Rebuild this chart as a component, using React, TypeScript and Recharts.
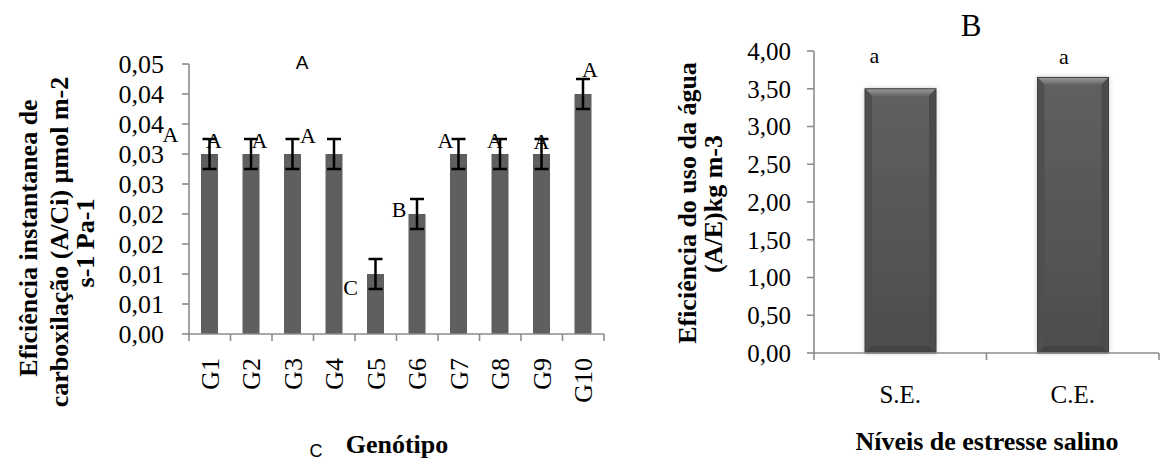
import { BarChart, Bar, XAxis, YAxis, ErrorBar, LabelList } from "recharts";

// Eficiência instantânea de carboxilação por genótipo
const genotypes = ["G1", "G2", "G3", "G4", "G5", "G6", "G7", "G8", "G9", "G10"];
const carboxEfficiency = [0.03, 0.03, 0.03, 0.03, 0.01, 0.02, 0.03, 0.03, 0.03, 0.04];
const carboxError = [0.0025, 0.0025, 0.0025, 0.0025, 0.0025, 0.0025, 0.0025, 0.0025, 0.0025, 0.0025];
const carboxLetters = ["A", "A", "A", "A", "C", "B", "A", "A", "A", "A"];
const carboxTicks = [0, 0.005, 0.01, 0.015, 0.02, 0.025, 0.03, 0.035, 0.04, 0.045];
const carboxTickLabels = ["0,00", "0,01", "0,01", "0,02", "0,02", "0,03", "0,03", "0,04", "0,04", "0,05"];

// Eficiência do uso da água por nível de estresse salino
const salinityLevels = ["S.E.", "C.E."];
const waterUseEfficiency = [3.5, 3.65];
const waterUseLetters = ["a", "a"];
const waterUseTicks = [0, 0.5, 1, 1.5, 2, 2.5, 3, 3.5, 4];
const waterUseTickLabels = ["0,00", "0,50", "1,00", "1,50", "2,00", "2,50", "3,00", "3,50", "4,00"];

const carboxData = genotypes.map((name, i) => ({
  name,
  value: carboxEfficiency[i],
  err: carboxError[i],
  letter: carboxLetters[i],
}));

const waterData = salinityLevels.map((name, i) => ({
  name,
  value: waterUseEfficiency[i],
  letter: waterUseLetters[i],
}));

const SERIF = '"Liberation Serif", "Times New Roman", serif';
const SANS = '"Liberation Sans", Arial, sans-serif';
const AXIS = "#8c8c8c";
const AXIS_W = 1.6;

// layout of the two panels
const A_W = 620;
const A_MARGIN = { top: 64, right: 16, bottom: 47, left: 0 };
const A_YAXIS_W = 189;
const A_BAND = (A_W - A_MARGIN.right - A_YAXIS_W) / genotypes.length;

const B_LEFT = 620;
const B_W = 540;
const B_MARGIN = { top: 51, right: 1, bottom: 49, left: 0 };
const B_YAXIS_W = 194;
const B_BAND = (B_W - B_MARGIN.right - B_YAXIS_W) / salinityLevels.length;

// hand-placed letter offsets (dx, dy) from the bar top centre
const A_LETTER_NUDGE = [
  [-39, -12], [-37, -6], [-33, -6], [-26, -11], [-25, 21],
  [-18, 3], [-13, -6], [-5, -6], [0, -5], [7, -17],
];
const B_LETTER_NUDGE = [
  [-26, -26], [-9, -13],
];

const GenotypeTick = (props: any) => {
  const { x, y, payload, index } = props;
  const half = A_BAND / 2;
  const last = index === genotypes.length - 1;
  return (
    <g>
      <line x1={x - half} y1={y} x2={x - half} y2={y + 7} stroke={AXIS} strokeWidth={AXIS_W} />
      {last && <line x1={x + half} y1={y} x2={x + half} y2={y + 7} stroke={AXIS} strokeWidth={AXIS_W} />}
      <text
        transform={`translate(${x + 9},${y + 24}) rotate(-90)`}
        textAnchor="end"
        fontFamily={SERIF}
        fontSize={26}
        fill="#000"
      >
        {payload.value}
      </text>
    </g>
  );
};

const SalinityTick = (props: any) => {
  const { x, y, payload, index } = props;
  const half = B_BAND / 2;
  const last = index === salinityLevels.length - 1;
  return (
    <g>
      <line x1={x - half} y1={y} x2={x - half} y2={y + 7} stroke={AXIS} strokeWidth={AXIS_W} />
      {last && <line x1={x + half} y1={y} x2={x + half} y2={y + 7} stroke={AXIS} strokeWidth={AXIS_W} />}
      <text x={x} y={y + 50} textAnchor="middle" fontFamily={SERIF} fontSize={25} fill="#000">
        {payload.value}
      </text>
    </g>
  );
};

const letterRenderer = (nudges: number[][]) => (props: any) => {
  const { x, y, width, value, index } = props;
  const [dx, dy] = nudges[index] || [0, -8];
  return (
    <text
      x={Number(x) + Number(width) / 2 + dx}
      y={Number(y) + dy}
      textAnchor="middle"
      fontFamily={SERIF}
      fontSize={22}
      fill="#000"
    >
      {value}
    </text>
  );
};

// bevelled bar used on the water-use panel
const BevelBar = (props: any) => {
  const { x, y, width: w, height: h } = props;
  const b = 7;
  return (
    <g>
      <rect x={x} y={y} width={w} height={h} fill="url(#bevelBody)" filter="url(#barShadow)" />
      <polygon
        points={`${x},${y} ${x + w},${y} ${x + w - b},${y + b} ${x + b},${y + b}`}
        fill="url(#bevelTop)"
      />
      <polygon
        points={`${x},${y} ${x + b},${y + b} ${x + b},${y + h - b} ${x},${y + h}`}
        fill="#4f4f4f"
      />
      <polygon
        points={`${x + w},${y} ${x + w},${y + h} ${x + w - b},${y + h - b} ${x + w - b},${y + b}`}
        fill="#4b4b4b"
      />
      <polygon
        points={`${x},${y + h} ${x + b},${y + h - b} ${x + w - b},${y + h - b} ${x + w},${y + h}`}
        fill="#434343"
      />
      <rect x={x} y={y} width={w} height={h} fill="none" stroke="#404040" strokeWidth={1} />
    </g>
  );
};

export default function App() {
  return (
    <div
      style={{
        position: "absolute",
        left: 0,
        top: 0,
        width: 1160,
        height: 462,
        overflow: "hidden",
        background: "#fff",
      }}
    >
      <div style={{ position: "absolute", left: 0, top: 0 }}>
        <BarChart width={A_W} height={462} data={carboxData} margin={A_MARGIN}>
          <XAxis
            dataKey="name"
            height={81}
            interval={0}
            tickSize={0}
            tickMargin={0}
            tickLine={false}
            axisLine={{ stroke: AXIS, strokeWidth: AXIS_W }}
            tick={(p: any) => <GenotypeTick {...p} />}
          />
          <YAxis
            width={A_YAXIS_W}
            domain={[0, 0.045]}
            ticks={carboxTicks}
            interval={0}
            tickSize={7}
            tickMargin={18}
            axisLine={{ stroke: AXIS, strokeWidth: AXIS_W }}
            tickLine={{ stroke: AXIS, strokeWidth: AXIS_W }}
            tickFormatter={(_v: number, i: number) => carboxTickLabels[i]}
            tick={{ fontFamily: SERIF, fontSize: 26, fill: "#000" }}
          />
          <Bar dataKey="value" fill="#5f5f5f" barSize={17} isAnimationActive={false}>
            <ErrorBar dataKey="err" width={7} strokeWidth={2.5} stroke="#000" direction="y" isAnimationActive={false} />
            <LabelList dataKey="letter" content={letterRenderer(A_LETTER_NUDGE)} />
          </Bar>
        </BarChart>
      </div>

      <div style={{ position: "absolute", left: B_LEFT, top: 0 }}>
        <BarChart width={B_W} height={462} data={waterData} margin={B_MARGIN}>
          <defs>
            <linearGradient id="bevelTop" x1="0" y1="0" x2="0" y2="1">
              <stop offset="0%" stopColor="#9a9a9a" />
              <stop offset="100%" stopColor="#6a6a6a" />
            </linearGradient>
            <linearGradient id="bevelBody" x1="0" y1="0" x2="0" y2="1">
              <stop offset="0%" stopColor="#606060" />
              <stop offset="100%" stopColor="#4d4d4d" />
            </linearGradient>
            <filter id="barShadow" x="-20%" y="-10%" width="140%" height="120%">
              <feDropShadow dx="0" dy="0" stdDeviation="2.5" floodColor="#000" floodOpacity="0.25" />
            </filter>
          </defs>
          <XAxis
            dataKey="name"
            height={60}
            interval={0}
            tickSize={0}
            tickMargin={0}
            tickLine={false}
            axisLine={{ stroke: AXIS, strokeWidth: AXIS_W }}
            tick={(p: any) => <SalinityTick {...p} />}
          />
          <YAxis
            width={B_YAXIS_W}
            domain={[0, 4]}
            ticks={waterUseTicks}
            interval={0}
            tickSize={7}
            tickMargin={16}
            axisLine={{ stroke: AXIS, strokeWidth: AXIS_W }}
            tickLine={{ stroke: AXIS, strokeWidth: AXIS_W }}
            tickFormatter={(_v: number, i: number) => waterUseTickLabels[i]}
            tick={{ fontFamily: SERIF, fontSize: 25, fill: "#000" }}
          />
          <Bar dataKey="value" barSize={71} shape={(p: any) => <BevelBar {...p} />} isAnimationActive={false}>
            <LabelList dataKey="letter" content={letterRenderer(B_LETTER_NUDGE)} />
          </Bar>
        </BarChart>
      </div>

      {/* titles and axis captions */}
      <svg
        width={1160}
        height={462}
        style={{ position: "absolute", left: 0, top: 0, pointerEvents: "none" }}
      >
        <text x={302} y={69} textAnchor="middle" fontFamily={SANS} fontSize={19}>A</text>
        <g fontFamily={SERIF} fontSize={26} fontWeight="bold" textAnchor="middle">
          <text transform="translate(37,238) rotate(-90)">Eficiência instantanea de</text>
          <text transform="translate(68,242) rotate(-90)">carboxilação (A/Ci) µmol m-2</text>
          <text transform="translate(94,243) rotate(-90)">s-1 Pa-1</text>
          <text x={397} y={453}>Genótipo</text>
          <text transform="translate(696,203) rotate(-90)">Eficiência do uso da água</text>
          <text transform="translate(722,204) rotate(-90)">(A/E)kg m-3</text>
          <text x={987} y={450}>Níveis de estresse salino</text>
        </g>
        <text x={316} y={457} textAnchor="middle" fontFamily={SANS} fontSize={18}>C</text>
        <text x={971} y={36} textAnchor="middle" fontFamily={SERIF} fontSize={31}>B</text>
      </svg>
    </div>
  );
}
